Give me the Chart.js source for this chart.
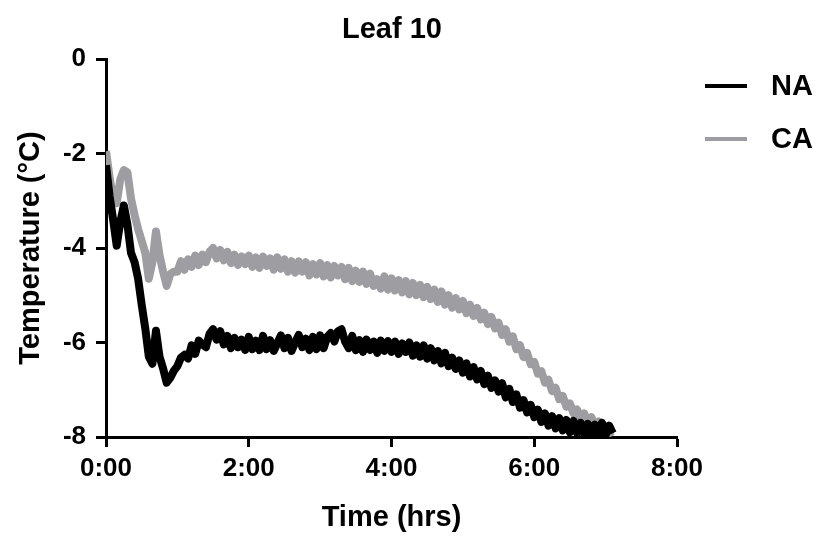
<!DOCTYPE html>
<html>
<head>
<meta charset="utf-8">
<title>Leaf 10</title>
<script src="https://cdn.jsdelivr.net/npm/chart.js@4"></script>
<style>
  html, body { margin: 0; padding: 0; background: #fff; }
  #wrap { width: 821px; height: 539px; }
</style>
</head>
<body>
<div id="wrap"><canvas id="chart" width="821" height="539"></canvas></div>
<script>
// sample times in hours
const times = [
  0.00, 0.05, 0.10, 0.15, 0.20, 0.25, 0.30, 0.35, 0.40, 0.45,
  0.50, 0.55, 0.60, 0.65, 0.70, 0.75, 0.80, 0.85, 0.90, 0.95,
  1.00, 1.05, 1.10, 1.15, 1.20, 1.25, 1.30, 1.35, 1.40, 1.45,
  1.50, 1.55, 1.60, 1.65, 1.70, 1.75, 1.80, 1.85, 1.90, 1.95,
  2.00, 2.05, 2.10, 2.15, 2.20, 2.25, 2.30, 2.35, 2.40, 2.45,
  2.50, 2.55, 2.60, 2.65, 2.70, 2.75, 2.80, 2.85, 2.90, 2.95,
  3.00, 3.05, 3.10, 3.15, 3.20, 3.25, 3.30, 3.35, 3.40, 3.45,
  3.50, 3.55, 3.60, 3.65, 3.70, 3.75, 3.80, 3.85, 3.90, 3.95,
  4.00, 4.05, 4.10, 4.15, 4.20, 4.25, 4.30, 4.35, 4.40, 4.45,
  4.50, 4.55, 4.60, 4.65, 4.70, 4.75, 4.80, 4.85, 4.90, 4.95,
  5.00, 5.05, 5.10, 5.15, 5.20, 5.25, 5.30, 5.35, 5.40, 5.45,
  5.50, 5.55, 5.60, 5.65, 5.70, 5.75, 5.80, 5.85, 5.90, 5.95,
  6.00, 6.05, 6.10, 6.15, 6.20, 6.25, 6.30, 6.35, 6.40, 6.45,
  6.50, 6.55, 6.60, 6.65, 6.70, 6.75, 6.80, 6.85, 6.90, 6.95,
  7.00, 7.05, 7.10
]

// NA temperatures (°C)
const naTemps = [
  -2.25, -2.90, -3.40, -3.95, -3.45, -3.10, -3.50, -4.10, -4.30, -4.65,
  -5.20, -5.70, -6.30, -6.45, -5.75, -6.30, -6.55, -6.85, -6.75, -6.60,
  -6.50, -6.32, -6.26, -6.34, -6.06, -6.24, -5.96, -6.04, -6.10, -5.82,
  -5.72, -5.94, -5.76, -6.04, -5.86, -6.12, -5.90, -6.10, -5.94, -6.16,
  -5.88, -6.14, -5.96, -6.16, -5.86, -6.14, -5.95, -6.18, -6.02, -5.85,
  -6.12, -5.90, -6.18, -6.00, -5.84, -6.10, -5.92, -6.16, -5.88, -6.14,
  -5.85, -6.12, -5.88, -5.80, -5.98, -5.76, -5.72, -5.98, -6.12, -5.86,
  -6.16, -5.95, -6.20, -5.94, -6.16, -5.98, -6.22, -5.96, -6.18, -5.97,
  -6.20, -5.98, -6.24, -6.02, -6.20, -6.00, -6.28, -6.06, -6.30, -6.06,
  -6.34, -6.12, -6.38, -6.18, -6.44, -6.22, -6.50, -6.32, -6.56, -6.38,
  -6.64, -6.44, -6.72, -6.52, -6.78, -6.60, -6.88, -6.70, -6.96, -6.80,
  -7.04, -6.86, -7.16, -6.98, -7.26, -7.10, -7.38, -7.22, -7.48, -7.32,
  -7.58, -7.42, -7.68, -7.50, -7.76, -7.56, -7.82, -7.60, -7.86, -7.64,
  -7.90, -7.66, -7.92, -7.70, -7.94, -7.72, -7.95, -7.74, -7.96, -7.70,
  -7.96, -7.76, -7.92
]

// CA temperatures (°C)
const caTemps = [
  -1.95, -2.50, -2.95, -3.05, -2.55, -2.35, -2.40, -2.95, -3.30, -3.60,
  -3.85, -4.10, -4.65, -4.30, -3.65, -4.15, -4.50, -4.80, -4.55, -4.50,
  -4.50, -4.28, -4.46, -4.24, -4.40, -4.16, -4.36, -4.14, -4.30, -4.08,
  -4.00, -4.22, -4.04, -4.26, -4.08, -4.32, -4.14, -4.36, -4.18, -4.34,
  -4.16, -4.40, -4.20, -4.42, -4.18, -4.38, -4.22, -4.46, -4.20, -4.44,
  -4.24, -4.50, -4.28, -4.52, -4.28, -4.50, -4.30, -4.58, -4.34, -4.56,
  -4.32, -4.60, -4.36, -4.62, -4.38, -4.58, -4.40, -4.66, -4.42, -4.70,
  -4.48, -4.72, -4.50, -4.76, -4.54, -4.80, -4.66, -4.86, -4.60, -4.88,
  -4.64, -4.90, -4.68, -4.94, -4.70, -4.98, -4.74, -5.00, -4.78, -5.04,
  -4.82, -5.08, -4.88, -5.14, -4.92, -5.20, -5.00, -5.26, -5.06, -5.30,
  -5.12, -5.38, -5.20, -5.44, -5.27, -5.51, -5.37, -5.61, -5.46, -5.70,
  -5.58, -5.84, -5.72, -5.98, -5.87, -6.14, -6.06, -6.31, -6.22, -6.46,
  -6.41, -6.66, -6.61, -6.85, -6.79, -7.03, -6.96, -7.20, -7.13, -7.36,
  -7.29, -7.50, -7.42, -7.61, -7.50, -7.69, -7.58, -7.76, -7.67, -7.86,
  -7.77, -7.92, -7.88
]

const xTicks = [0, 2, 4, 6, 8]
const yTicks = [0, -2, -4, -6, -8]

const fontFamily = "'Liberation Sans', Arial, sans-serif"

const toPoints = (vals) => vals.map((v, i) => ({ x: times[i], y: v }))

// title + legend drawn by hand so they sit where the original puts them
const decorations = {
  id: "decorations",
  afterDraw(chart) {
    const ctx = chart.ctx
    ctx.save()
    ctx.fillStyle = "#000"
    ctx.font = `bold 29px ${fontFamily}`
    ctx.textAlign = "center"
    ctx.textBaseline = "middle"
    ctx.fillText("Leaf 10", 392, 30)

    const rows = [86, 139]
    chart.data.datasets.forEach((ds, i) => {
      const y = rows[i]
      ctx.strokeStyle = ds.borderColor
      ctx.lineWidth = 4
      ctx.beginPath()
      ctx.moveTo(705, y)
      ctx.lineTo(747, y)
      ctx.stroke()
      ctx.fillStyle = "#000"
      ctx.textAlign = "left"
      ctx.fillText(ds.label, 771, y + 1)
    })
    ctx.restore()
  }
}

new Chart(document.getElementById("chart"), {
  type: "line",
  data: {
    datasets: [
      {
        label: "NA",
        data: toPoints(naTemps),
        borderColor: "#000000",
        borderWidth: 8,
        borderJoinStyle: "round",
        pointRadius: 0,
        tension: 0
      },
      {
        label: "CA",
        data: toPoints(caTemps),
        borderColor: "#9e9ea2",
        borderWidth: 8,
        borderJoinStyle: "round",
        pointRadius: 0,
        tension: 0
      }
    ]
  },
  options: {
    responsive: false,
    animation: false,
    devicePixelRatio: 1,
    layout: { padding: { top: 59, right: 144, left: 0, bottom: 0 } },
    plugins: {
      legend: { display: false },
      title: { display: false },
      tooltip: { enabled: false }
    },
    scales: {
      x: {
        type: "linear",
        min: 0,
        max: 8,
        afterBuildTicks: (s) => { s.ticks = xTicks.map(v => ({ value: v })) },
        afterFit: (s) => { s.height = 102 },
        ticks: {
          callback: (v) => v + ":00",
          color: "#000",
          font: { family: fontFamily, size: 26, weight: "bold" },
          padding: 6,
          maxRotation: 0
        },
        grid: {
          drawOnChartArea: false,
          drawTicks: true,
          tickLength: 10,
          tickWidth: 3,
          tickColor: "#000"
        },
        border: { color: "#000", width: 3 },
        title: {
          display: true,
          text: "Time (hrs)",
          color: "#000",
          font: { family: fontFamily, size: 29, weight: "bold" },
          padding: { top: 8 }
        }
      },
      y: {
        min: -8,
        max: 0,
        afterBuildTicks: (s) => { s.ticks = yTicks.map(v => ({ value: v })) },
        afterFit: (s) => { s.width = 106 },
        ticks: {
          color: "#000",
          font: { family: fontFamily, size: 26, weight: "bold" },
          padding: 10
        },
        grid: {
          drawOnChartArea: false,
          drawTicks: true,
          tickLength: 10,
          tickWidth: 3,
          tickColor: "#000"
        },
        border: { color: "#000", width: 3 },
        title: {
          display: true,
          text: "Temperature (°C)",
          color: "#000",
          font: { family: fontFamily, size: 29, weight: "bold" },
          padding: { top: 14, bottom: 0 }
        }
      }
    }
  },
  plugins: [decorations]
})
</script>
</body>
</html>
